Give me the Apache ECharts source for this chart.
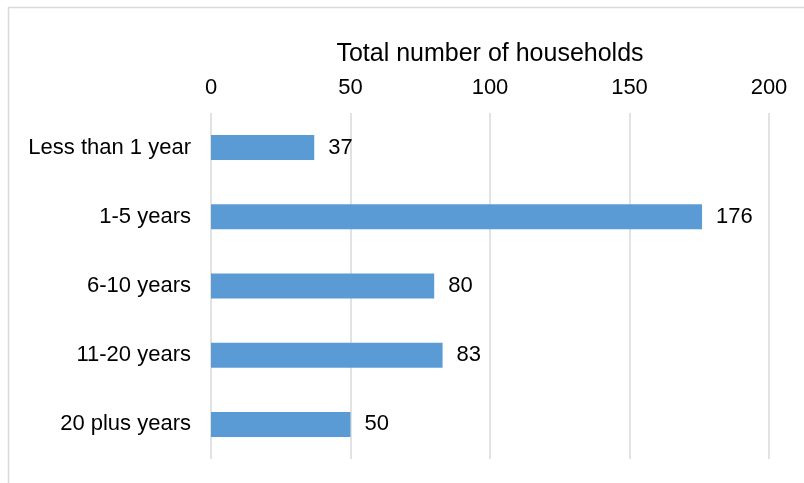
<!DOCTYPE html>
<html>
<head>
<meta charset="utf-8">
<script src="https://cdn.jsdelivr.net/npm/echarts@6/dist/echarts.min.js"></script>
<style>
  html, body { margin: 0; padding: 0; background: #fff; }
  #chart { width: 804px; height: 483px; }
</style>
</head>
<body>
<div id="chart"></div>
<script>
const categories = ['Less than 1 year', '1-5 years', '6-10 years', '11-20 years', '20 plus years']
const households = [37, 176, 80, 83, 50]
const axisTitle = 'Total number of households'

const font = 'Liberation Sans, Arial, sans-serif'
const chart = echarts.init(document.getElementById('chart'))
chart.setOption({
  animation: false,
  graphic: [{
    type: 'rect',
    shape: { x: 8.5, y: 7.5, width: 820, height: 500 },
    style: { fill: 'none', stroke: '#d9d9d9', lineWidth: 1.5 },
    silent: true
  }],
  grid: { left: 211, right: 35, top: 113, bottom: 24 },
  xAxis: {
    type: 'value',
    position: 'top',
    min: 0,
    max: 200,
    interval: 50,
    name: axisTitle,
    nameLocation: 'middle',
    nameGap: 46,
    nameTextStyle: { fontFamily: font, fontSize: 25, color: '#000' },
    axisLine: { show: false },
    axisTick: { show: false },
    axisLabel: { fontFamily: font, fontSize: 22, color: '#000', margin: 14 },
    splitLine: { lineStyle: { color: '#d9d9d9', width: 1.5 } }
  },
  yAxis: {
    type: 'category',
    inverse: true,
    data: categories,
    axisLine: { show: false },
    axisTick: { show: false },
    axisLabel: { fontFamily: font, fontSize: 22, color: '#000', margin: 20 }
  },
  series: [{
    type: 'bar',
    data: households,
    barWidth: 25,
    itemStyle: { color: '#5b9bd5' },
    label: {
      show: true,
      position: 'right',
      distance: 14,
      fontFamily: font,
      fontSize: 22,
      color: '#000'
    }
  }]
})
</script>
</body>
</html>
